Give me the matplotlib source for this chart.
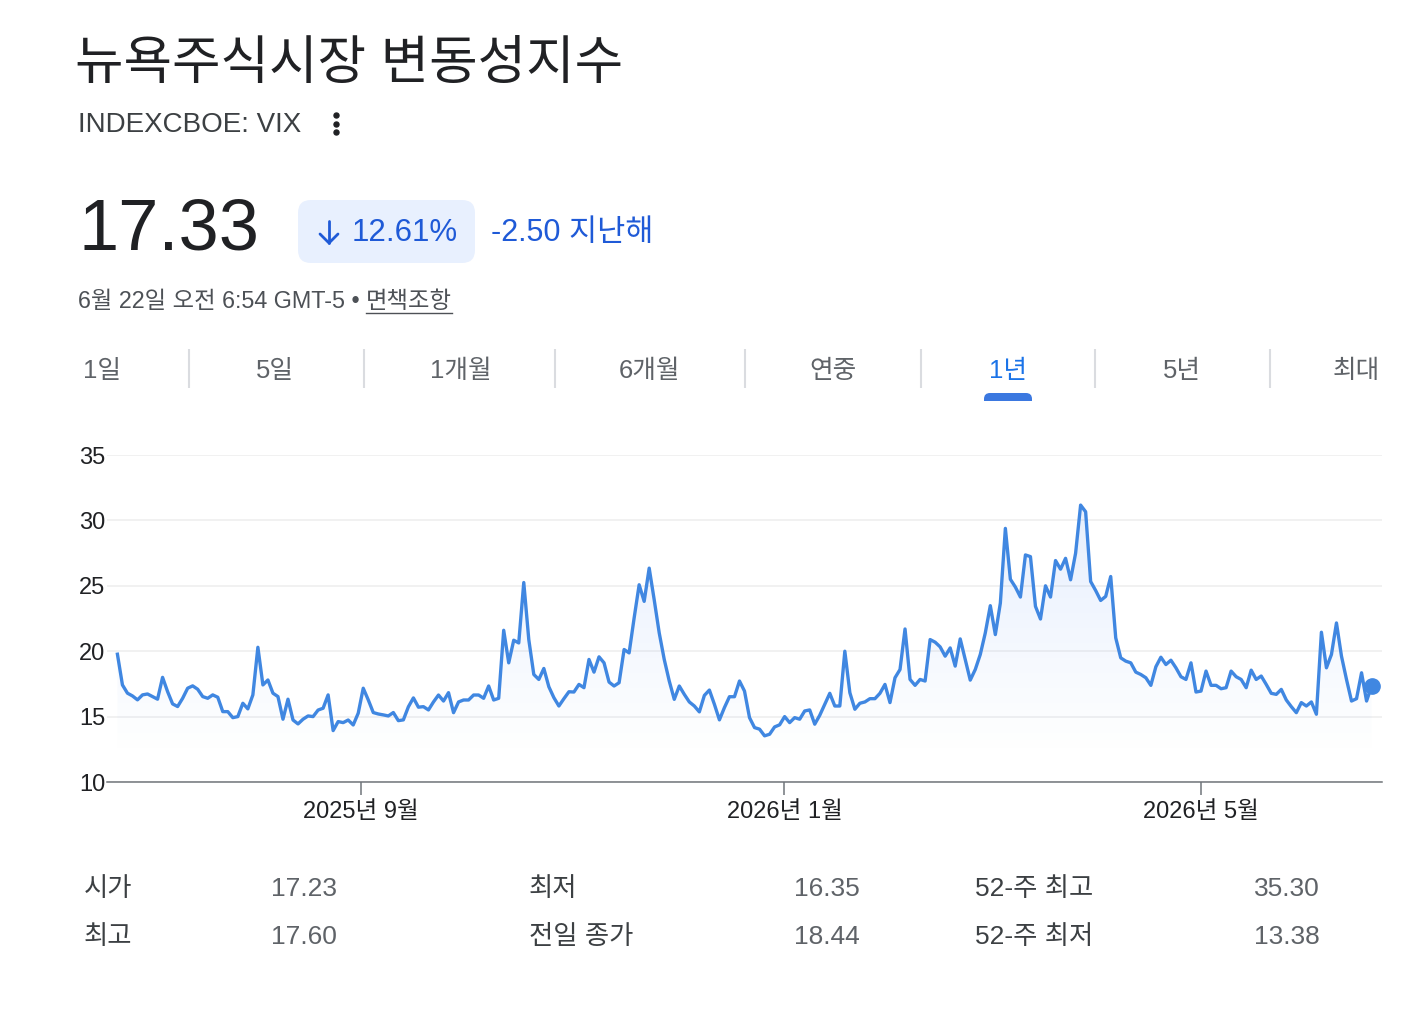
import matplotlib
matplotlib.use('Agg')
import matplotlib.pyplot as plt
from matplotlib.patches import FancyBboxPatch
import numpy as np
import pandas as pd

plt.rcParams['font.family'] = ['Liberation Sans', 'Noto Sans CJK KR', 'DejaVu Sans']

W, H = 1406, 1022
BLUE = '#4087e1'

# VIX 일별 종가
vix = [19.77, 17.42, 16.79, 16.58, 16.28, 16.66, 16.73, 16.53, 16.33, 18.0,
       16.91, 15.97, 15.77, 16.4, 17.17, 17.35, 17.09, 16.53, 16.4, 16.66,
       16.48, 15.38, 15.38, 14.92, 15.0, 16.02, 15.59, 16.66, 20.3, 17.42,
       17.8, 16.79, 16.53, 14.8, 16.33, 14.74, 14.44, 14.8, 15.05, 15.0,
       15.5, 15.64, 16.66, 13.93, 14.62, 14.54, 14.74, 14.36, 15.26, 17.17,
       16.28, 15.31, 15.2, 15.13, 15.05, 15.31, 14.69,
       14.75, 15.75, 16.43, 15.72, 15.76, 15.51, 16.12, 16.65, 16.19, 16.83,
       15.3, 16.12, 16.27, 16.27, 16.65, 16.65, 16.4, 17.34, 16.27, 16.4,
       21.6, 19.11, 20.84, 20.63, 25.25, 20.89, 18.22, 17.84, 18.68, 17.28,
       16.45, 15.81, 16.37, 16.9, 16.88, 17.46, 17.21, 19.37, 18.4, 19.57,
       19.11, 17.64, 17.34, 17.59, 20.13, 19.87, 22.54, 25.08, 23.81, 26.35,
       23.93, 21.4, 19.37, 17.72, 16.32, 17.34, 16.7, 16.12, 15.81, 15.36,
       16.62, 17.03, 15.94, 14.75, 15.69, 16.52, 16.52, 17.72, 16.95, 14.92,
       14.16, 14.04, 13.53, 13.65, 14.21, 14.37, 15.0, 14.54, 14.92, 14.8,
       15.43, 15.51, 14.42, 15.1, 15.94, 16.78, 15.81, 15.81, 20.0, 16.83,
       15.56, 16.02, 16.12, 16.37, 16.37, 16.78, 17.46, 16.07, 17.97, 18.6,
       21.7, 17.84, 17.39, 17.84, 17.72, 20.89, 20.69, 20.33, 19.62, 20.25,
       18.86, 20.94, 19.37, 17.79, 18.6, 19.75, 21.4, 23.48, 21.27,
       23.68, 29.39, 25.5, 24.9, 24.14, 27.36, 27.23, 23.43, 22.46, 25.0,
       24.14, 26.93, 26.27, 27.1, 25.46, 27.49, 31.17, 30.66, 25.33, 24.64,
       23.88, 24.19, 25.71, 21.02, 19.49, 19.24, 19.11, 18.4, 18.22, 17.97,
       17.39, 18.81, 19.54, 18.98, 19.31,
       18.73, 18.05, 17.84, 19.11, 16.88, 16.95, 18.48, 17.39, 17.39, 17.13,
       17.21, 18.48, 18.05, 17.84, 17.21, 18.55, 17.84, 18.1, 17.46, 16.78,
       16.7, 17.08, 16.27, 15.76, 15.3, 16.07, 15.81, 16.12, 15.18, 21.45,
       18.73, 19.75, 22.16, 19.62, 17.84, 16.19, 16.37, 18.35, 16.19, 17.33]
dates = pd.date_range('2025-06-23', '2026-06-19', periods=len(vix))

y_ticks = [10, 15, 20, 25, 30, 35]
x_tick_dates = pd.to_datetime(['2025-09-01', '2026-01-01', '2026-05-01'])
x_tick_labels = ['2025년 9월', '2026년 1월', '2026년 5월']

tabs = ['1일', '5일', '1개월', '6개월', '연중', '1년', '5년', '최대']
stat_labels = [['시가', '최고'], ['최저', '전일 종가'], ['52-주 최고', '52-주 최저']]
stat_values = [['17.23', '17.60'], ['16.35', '18.44'], ['35.30', '13.38']]

fig = plt.figure(figsize=(W / 100, H / 100), dpi=100)

# 픽셀 좌표로 그리는 바탕 축
deco = fig.add_axes([0, 0, 1, 1])
deco.set_xlim(0, W)
deco.set_ylim(H, 0)
deco.axis('off')

deco.text(75, 65, '뉴욕주식시장 변동성지수', fontsize=38, fontweight='medium',
          color='#202124', va='center')
deco.text(78, 125, 'INDEXCBOE: VIX', fontsize=20, color='#3c4043', va='center')
deco.plot([336, 336, 336], [115, 124, 132], 'o', ms=3.6, color='#202124')

deco.text(78, 231, '17.33', fontsize=52, color='#202124', va='center')
deco.add_patch(FancyBboxPatch((298, 200), 177, 63, boxstyle='round,pad=0,rounding_size=13',
                              fc='#e8f0fe', ec='none'))
# 아래 화살표
deco.plot([329, 329], [221, 243], color='#1f5ad7', lw=2, solid_capstyle='round')
deco.plot([320, 329, 338], [234, 243, 234], color='#1f5ad7', lw=2,
          solid_capstyle='round', solid_joinstyle='miter')
deco.text(352, 233, '12.61%', fontsize=22.5, color='#1f5ad7', va='center')
deco.text(491, 233, '-2.50 지난해', fontsize=22, color='#1f5ad7', va='center')

pre = deco.text(78, 302, '6월 22일 오전 6:54 GMT-5 • ', fontsize=16.8, color='#4d5156', va='center')
fig.canvas.draw()
pb = pre.get_window_extent().transformed(deco.transData.inverted())
disc = deco.text(pb.x1, 302, '면책조항', fontsize=16.8, color='#4d5156', va='center')
fig.canvas.draw()
bb = disc.get_window_extent().transformed(deco.transData.inverted())
deco.plot([bb.x0, bb.x1], [313, 313], color='#4d5156', lw=1)

# 기간 탭
tab_x = [83, 275, 461, 650, 833, 1008, 1182, 1380]
tab_ha = ['left'] + ['center'] * 6 + ['right']
for i, t in enumerate(tabs):
    c = '#1a73e8' if t == '1년' else '#5f6368'
    deco.text(tab_x[i], 371, t, fontsize=18.5, color=c, va='center', ha=tab_ha[i])
deco.vlines([189, 364, 555, 745, 921, 1095, 1270], 349, 388, color='#dadce0', lw=1.5)
deco.add_patch(FancyBboxPatch((984, 393), 48, 14, boxstyle='round,pad=0,rounding_size=6',
                              fc='#3b78e0', ec='none'))
deco.add_patch(plt.Rectangle((980, 401), 56, 10, fc='white', ec='none'))

# 통계 표
lab_x = [84, 529, 975]
val_x = [337, 860, 1320]
row_y = [889, 937]
for c in range(3):
    for r in range(2):
        deco.text(lab_x[c], row_y[r], stat_labels[c][r], fontsize=19, color='#3c4043', va='center')
        deco.text(val_x[c], row_y[r], stat_values[c][r], fontsize=19, color='#5f6368',
                  va='center', ha='right')

# 차트
ax = fig.add_axes([107 / W, 1 - 782 / H, 1275 / W, 327 / H])
ax.set_facecolor('none')
ax.set_xlim(pd.Timestamp('2025-06-20'), pd.Timestamp('2026-06-22'))
ax.set_ylim(10, 35)

poly = ax.fill_between(dates, vix, 10, color='none', lw=0)
grad = np.linspace(35, 10, 256)
alpha = np.clip((grad - 12) / (31 - 12), 0, 1) * 0.13
img = np.zeros((256, 1, 4))
img[:, 0, 0] = 0.26
img[:, 0, 1] = 0.52
img[:, 0, 2] = 0.96
img[:, 0, 3] = alpha
x0, x1 = ax.get_xlim()
im = ax.imshow(img, extent=[x0, x1, 10, 35], aspect='auto', zorder=1, interpolation='bilinear')
im.set_clip_path(poly.get_paths()[0], ax.transData)

ax.plot(dates, vix, color=BLUE, lw=2.4, solid_joinstyle='round', clip_on=False, zorder=3)
ax.plot(dates[-1], vix[-1], 'o', ms=11, color=BLUE, clip_on=False, zorder=4)

ax.set_yticks(y_ticks)
ax.grid(axis='y', color='#efefef', lw=1.2)
ax.set_axisbelow(True)
ax.tick_params(axis='y', length=0, pad=1, labelsize=17, labelcolor='#202124')

ax.set_xticks(x_tick_dates)
ax.set_xticklabels(x_tick_labels)
ax.tick_params(axis='x', direction='out', length=9.5, width=1.1, color='#70757a',
               pad=4, labelsize=17, labelcolor='#202124')

for s in ['top', 'right', 'left']:
    ax.spines[s].set_visible(False)
ax.spines['bottom'].set_color('#70757a')
ax.spines['bottom'].set_linewidth(1.1)

fig.savefig('out.png', dpi=100, facecolor='white')
